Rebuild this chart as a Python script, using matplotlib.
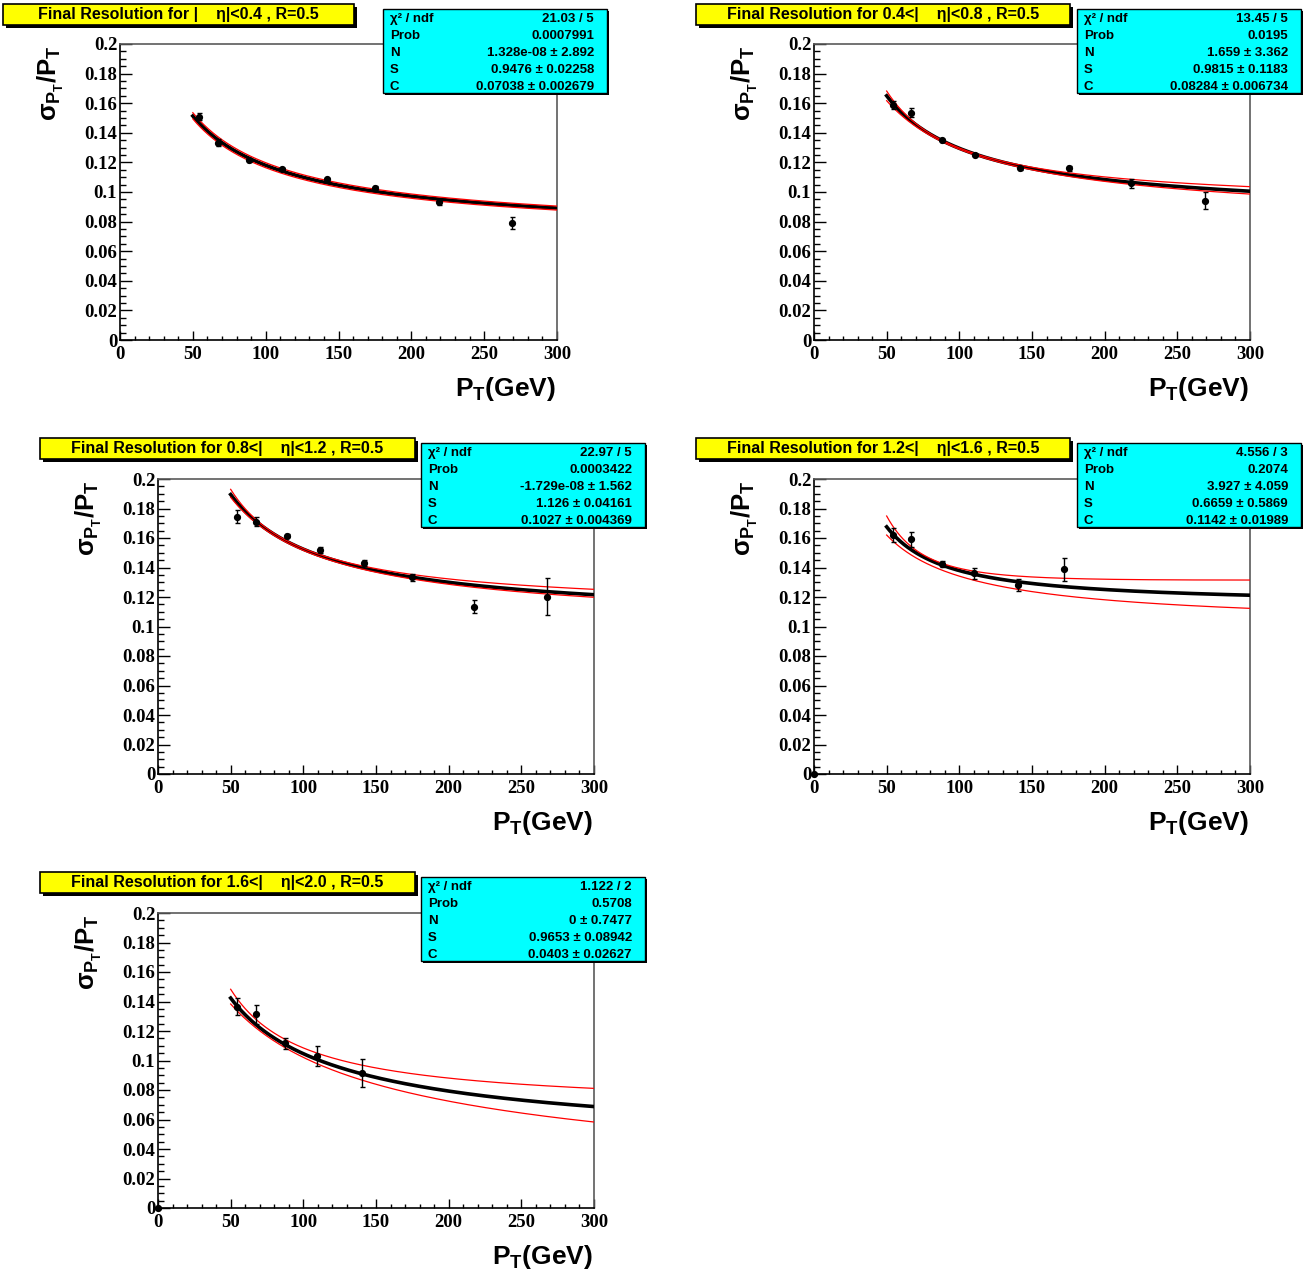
import numpy as np
import matplotlib
matplotlib.use("Agg")
import matplotlib.pyplot as plt
from matplotlib.patches import Rectangle

W, H = 1314, 1273

plt.rcParams['font.family'] = ['Liberation Sans', 'DejaVu Sans']
plt.rcParams['mathtext.fontset'] = 'custom'
plt.rcParams['mathtext.rm'] = 'Liberation Sans:bold'
plt.rcParams['mathtext.it'] = 'Liberation Sans:bold'
plt.rcParams['mathtext.bf'] = 'Liberation Sans:bold'

# ---- data ----
titles = [
    "Final Resolution for |    η|<0.4 , R=0.5",
    "Final Resolution for 0.4<|    η|<0.8 , R=0.5",
    "Final Resolution for 0.8<|    η|<1.2 , R=0.5",
    "Final Resolution for 1.2<|    η|<1.6 , R=0.5",
    "Final Resolution for 1.6<|    η|<2.0 , R=0.5",
]
stat_names = ["χ² / ndf", "Prob", "N", "S", "C"]
stats1 = ["21.03 / 5", "0.0007991", "1.328e-08 ± 2.892", "0.9476 ± 0.02258", "0.07038 ± 0.002679"]
stats2 = ["13.45 / 5", "0.0195", "1.659 ± 3.362", "0.9815 ± 0.1183", "0.08284 ± 0.006734"]
stats3 = ["22.97 / 5", "0.0003422", "-1.729e-08 ± 1.562", "1.126 ± 0.04161", "0.1027 ± 0.004369"]
stats4 = ["4.556 / 3", "0.2074", "3.927 ± 4.059", "0.6659 ± 0.5869", "0.1142 ± 0.01989"]
stats5 = ["1.122 / 2", "0.5708", "0 ± 0.7477", "0.9653 ± 0.08942", "0.0403 ± 0.02627"]

# fit parameters N, S, C
fit1 = [1.328e-08, 0.9476, 0.07038]
fit2 = [1.659, 0.9815, 0.08284]
fit3 = [-1.729e-08, 1.126, 0.1027]
fit4 = [3.927, 0.6659, 0.1142]
fit5 = [0.0, 0.9653, 0.0403]

# error band curves, coefficients of a/x^2 + b/x + c (upper, lower)
band1 = [[0.0, 0.924162, 0.0051097], [0.0, 0.876691, 0.00478654]]
band2 = [[13.888, 0.72943, 0.0081473], [-4.816, 1.09783, 0.0061161]]
band3 = [[13.659, 0.97569, 0.012271], [-4.191, 1.34827, 0.0099044]]
band4 = [[47.40, -0.308, 0.017792], [1.064, 0.79316, 0.0099553]]
band5 = [[14.517, 0.58618, 0.004462], [-11.031, 1.20108, -0.00048213]]

pt1 = [54.2, 67.3, 88.3, 111.2, 142.3, 175.3, 219.2, 269.3]
res1 = [0.1509, 0.1333, 0.1214, 0.1155, 0.1085, 0.1029, 0.0930, 0.0788]
err1 = [0.0023, 0.0022, 0.0010, 0.0008, 0.0008, 0.0010, 0.0016, 0.0040]

pt2 = [54.4, 67.0, 87.9, 111.0, 142.0, 175.2, 218.1, 269.0]
res2 = [0.1588, 0.1536, 0.1349, 0.1248, 0.1160, 0.1160, 0.1059, 0.0941]
err2 = [0.0025, 0.0030, 0.0008, 0.0008, 0.0010, 0.0015, 0.0030, 0.0056]

pt3 = [54.4, 67.2, 88.5, 111.5, 141.7, 174.8, 217.6, 267.4]
res3 = [0.1744, 0.1711, 0.1614, 0.1519, 0.1433, 0.1333, 0.1134, 0.1202]
err3 = [0.0045, 0.0030, 0.0010, 0.0020, 0.0020, 0.0025, 0.0045, 0.0124]

pt4 = [0.0, 54.4, 67.0, 88.1, 109.9, 140.2, 172.0]
res4 = [0.0, 0.1620, 0.1591, 0.1422, 0.1360, 0.1279, 0.1388]
err4 = [0.0, 0.0047, 0.0049, 0.0020, 0.0037, 0.0040, 0.0079]

pt5 = [0.0, 54.4, 67.4, 87.6, 109.4, 140.4]
res5 = [0.0, 0.1365, 0.1313, 0.1116, 0.1031, 0.0917]
err5 = [0.0, 0.0059, 0.0064, 0.0036, 0.0066, 0.0096]

xticks = [0, 50, 100, 150, 200, 250, 300]
yticks = [0, 0.02, 0.04, 0.06, 0.08, 0.1, 0.12, 0.14, 0.16, 0.18, 0.2]
ylabels = ["0", "0.02", "0.04", "0.06", "0.08", "0.1", "0.12", "0.14", "0.16", "0.18", "0.2"]

# pixel layout: axes frame, title box, stats box (x0, y0, x1, y1)
frames = [(120, 44, 557, 340), (814, 44, 1250, 340), (158, 479, 594, 774),
          (814, 479, 1250, 774), (158, 913, 594, 1208)]
title_boxes = [(3, 4, 354, 25), (696, 4, 1070, 25), (40, 438, 415, 459),
               (696, 438, 1070, 459), (40, 872, 415, 893)]
stat_boxes = [(383, 9, 607, 93), (1077, 9, 1301, 93), (421, 443, 645, 527),
              (1077, 443, 1301, 527), (421, 877, 645, 961)]


def fbox(x0, y0, x1, y1):
    return [x0 / W, 1 - y1 / H, (x1 - x0) / W, (y1 - y0) / H]


def fit_curve(x, N, S, C):
    return np.sqrt(np.sign(N) * N**2 / x**2 + S**2 / x + C**2)


def band_curve(x, a, b, c):
    return np.sqrt(a / x**2 + b / x + c)


def boxed(box, color, shadow, lw):
    x0, y0, x1, y1 = box
    sh = Rectangle(((x0 + shadow) / W, 1 - (y1 + shadow) / H), (x1 - x0) / W, (y1 - y0) / H,
                   transform=fig.transFigure, facecolor='black', edgecolor='none', zorder=10)
    bx = Rectangle((x0 / W, 1 - y1 / H), (x1 - x0) / W, (y1 - y0) / H,
                   transform=fig.transFigure, facecolor=color, edgecolor='black', lw=lw, zorder=11)
    fig.add_artist(sh)
    fig.add_artist(bx)


fig = plt.figure(figsize=(W / 100, H / 100), dpi=100)

panels = [
    (titles[0], stats1, fit1, band1, pt1, res1, err1),
    (titles[1], stats2, fit2, band2, pt2, res2, err2),
    (titles[2], stats3, fit3, band3, pt3, res3, err3),
    (titles[3], stats4, fit4, band4, pt4, res4, err4),
    (titles[4], stats5, fit5, band5, pt5, res5, err5),
]

for i, (title, stats, fit, band, pt, res, err) in enumerate(panels):
    fr = frames[i]
    ax = fig.add_axes(fbox(*fr))
    x = np.linspace(50, 300, 400)
    ax.plot(x, fit_curve(x, *fit), color='black', lw=2.6, zorder=3)
    ax.plot(x, band_curve(x, *band[0]), color='red', lw=0.9, zorder=4)
    ax.plot(x, band_curve(x, *band[1]), color='red', lw=0.9, zorder=4)
    ax.errorbar(pt, res, yerr=err, fmt='o', color='black', ms=4.2, elinewidth=1.0,
                capsize=1.8, capthick=1.0, zorder=5, clip_on=False)

    ax.set_xlim(0, 300)
    ax.set_ylim(0, 0.2)
    ax.set_xticks(xticks, [str(t) for t in xticks], fontfamily='Liberation Serif',
                  fontweight='bold', fontsize=13.5)
    ax.set_yticks(yticks, ylabels, fontfamily='Liberation Serif',
                  fontweight='bold', fontsize=13.5)
    ax.set_xticks(np.arange(0, 301, 10), minor=True)
    ax.set_yticks(np.arange(0, 0.2001, 0.005), minor=True)
    ax.tick_params(axis='x', which='major', direction='in', length=6.5, width=1.0, pad=4)
    ax.tick_params(axis='x', which='minor', direction='in', length=3.2, width=1.0)
    ax.tick_params(axis='y', which='major', direction='in', length=8.6, width=1.0, pad=2)
    ax.tick_params(axis='y', which='minor', direction='in', length=4.3, width=1.0)
    for s in ['left', 'bottom']:
        ax.spines[s].set_linewidth(1.2)
        ax.spines[s].set_color('black')
    for s in ['top', 'right']:
        ax.spines[s].set_linewidth(1.2)
        ax.spines[s].set_color('#5a5a5a')

    # axis titles
    fig.text((fr[0] - 69) / W, 1 - (fr[1] + 1) / H, r'$\sigma_{P_{T}}/P_{T}$',
             rotation=90, ha='center', va='top', fontsize=18.5)
    fig.text((fr[2] - 1) / W, 1 - (fr[3] + 56) / H, r'P$_{T}$(GeV)',
             ha='right', va='baseline', fontsize=19, fontweight='bold')

    # title box
    tb = title_boxes[i]
    boxed(tb, '#ffff00', 3, 1.2)
    fig.text((tb[0] + tb[2]) / 2 / W, 1 - (tb[1] + tb[3]) / 2 / H, title,
             ha='center', va='center', fontsize=11.5, fontweight='bold', zorder=12)

    # stats box
    sb = stat_boxes[i]
    boxed(sb, '#00ffff', 2, 1.0)
    hgt = sb[3] - sb[1]
    for j in range(5):
        yy = 1 - (sb[1] + hgt * (j + 0.62) / 5) / H
        fig.text((sb[0] + 7) / W, yy, stat_names[j], ha='left', va='center',
                 fontsize=9.5, fontweight='bold', zorder=12)
        fig.text((sb[2] - 13) / W, yy, stats[j], ha='right', va='center',
                 fontsize=9.5, fontweight='bold', zorder=12)

fig.savefig("out.png", dpi=100)
